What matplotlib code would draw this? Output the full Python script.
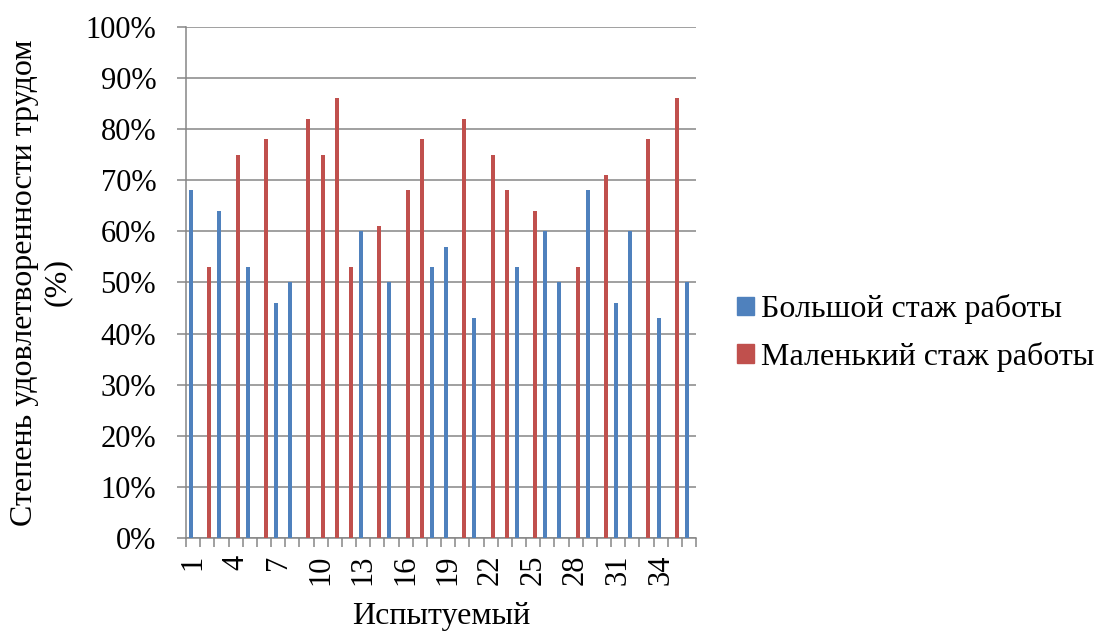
import numpy as np
import matplotlib
matplotlib.use('Agg')
import matplotlib.pyplot as plt
from matplotlib.patches import Patch
from matplotlib.ticker import MultipleLocator, FixedLocator, PercentFormatter

# satisfaction with work, per subject (0 = subject is not in that group)
subjects = np.arange(1, 37)
long_tenure = [68, 0, 64, 0, 53, 0, 46, 50, 0, 0, 0, 0, 60, 0, 50, 0, 0, 53,
               57, 0, 43, 0, 0, 53, 0, 60, 50, 0, 68, 0, 46, 60, 0, 43, 0, 50]
short_tenure = [0, 53, 0, 75, 0, 78, 0, 0, 82, 75, 86, 53, 0, 61, 0, 68, 78, 0,
                0, 82, 0, 75, 68, 0, 64, 0, 0, 53, 0, 71, 0, 0, 78, 0, 86, 0]
series_names = ['Большой стаж работы', 'Маленький стаж работы']
tick_labels = [str(n) for n in range(1, 37, 3)]

BLUE = '#4F81BD'
RED = '#C0504D'
GRID = '#868686'

plt.rcParams['font.family'] = ['Liberation Serif', 'DejaVu Serif']
tick_fs = 22
label_fs = 23

W, H = 1098, 632
fig = plt.figure(figsize=(W / 100, H / 100), dpi=100)
ax = fig.add_axes([186 / W, (H - 538.3) / H, 510 / W, (538.3 - 26.7) / H])

bw = 0.28
ax.bar(subjects - 0.14, long_tenure, width=bw, color=BLUE, zorder=3)
ax.bar(subjects + 0.14, short_tenure, width=bw, color=RED, zorder=3)

ax.set_xlim(0.5, 36.5)
ax.set_ylim(0, 100)

# y axis: 10% steps with gridlines
ax.yaxis.set_major_locator(MultipleLocator(10))
ax.yaxis.set_major_formatter(PercentFormatter(decimals=0))
ax.grid(axis='y', color=GRID, linewidth=1.1, zorder=0)
ax.tick_params(axis='y', length=6.5, width=1.1, color=GRID, pad=15,
               labelsize=tick_fs)

# x axis: marks between subjects, label every third one
ax.xaxis.set_major_locator(FixedLocator(range(1, 37, 3)))
ax.set_xticklabels(tick_labels, rotation=90)
ax.xaxis.set_minor_locator(FixedLocator(np.arange(0.5, 37, 1)))
ax.tick_params(axis='x', which='major', length=0, pad=12, labelsize=tick_fs)
ax.tick_params(axis='x', which='minor', length=6.5, width=1.1, color=GRID)

for side in ('top', 'right'):
    ax.spines[side].set_visible(False)
for side in ('left', 'bottom'):
    ax.spines[side].set_color(GRID)
    ax.spines[side].set_linewidth(1.1)

ax.set_xlabel('Испытуемый', fontsize=label_fs, labelpad=12)
ax.set_ylabel('Степень удовлетворенности трудом\n(%)', fontsize=label_fs,
              linespacing=1.15, labelpad=10)

handles = [Patch(color=BLUE), Patch(color=RED)]
fig.legend(handles, series_names, loc='center left',
           bbox_to_anchor=(737 / W, 1 - 333 / H), frameon=False,
           fontsize=label_fs, handlelength=0.52, handleheight=0.52,
           handletextpad=0.22, labelspacing=0.55, borderpad=0,
           borderaxespad=0)

fig.savefig('out.png', dpi=100)
